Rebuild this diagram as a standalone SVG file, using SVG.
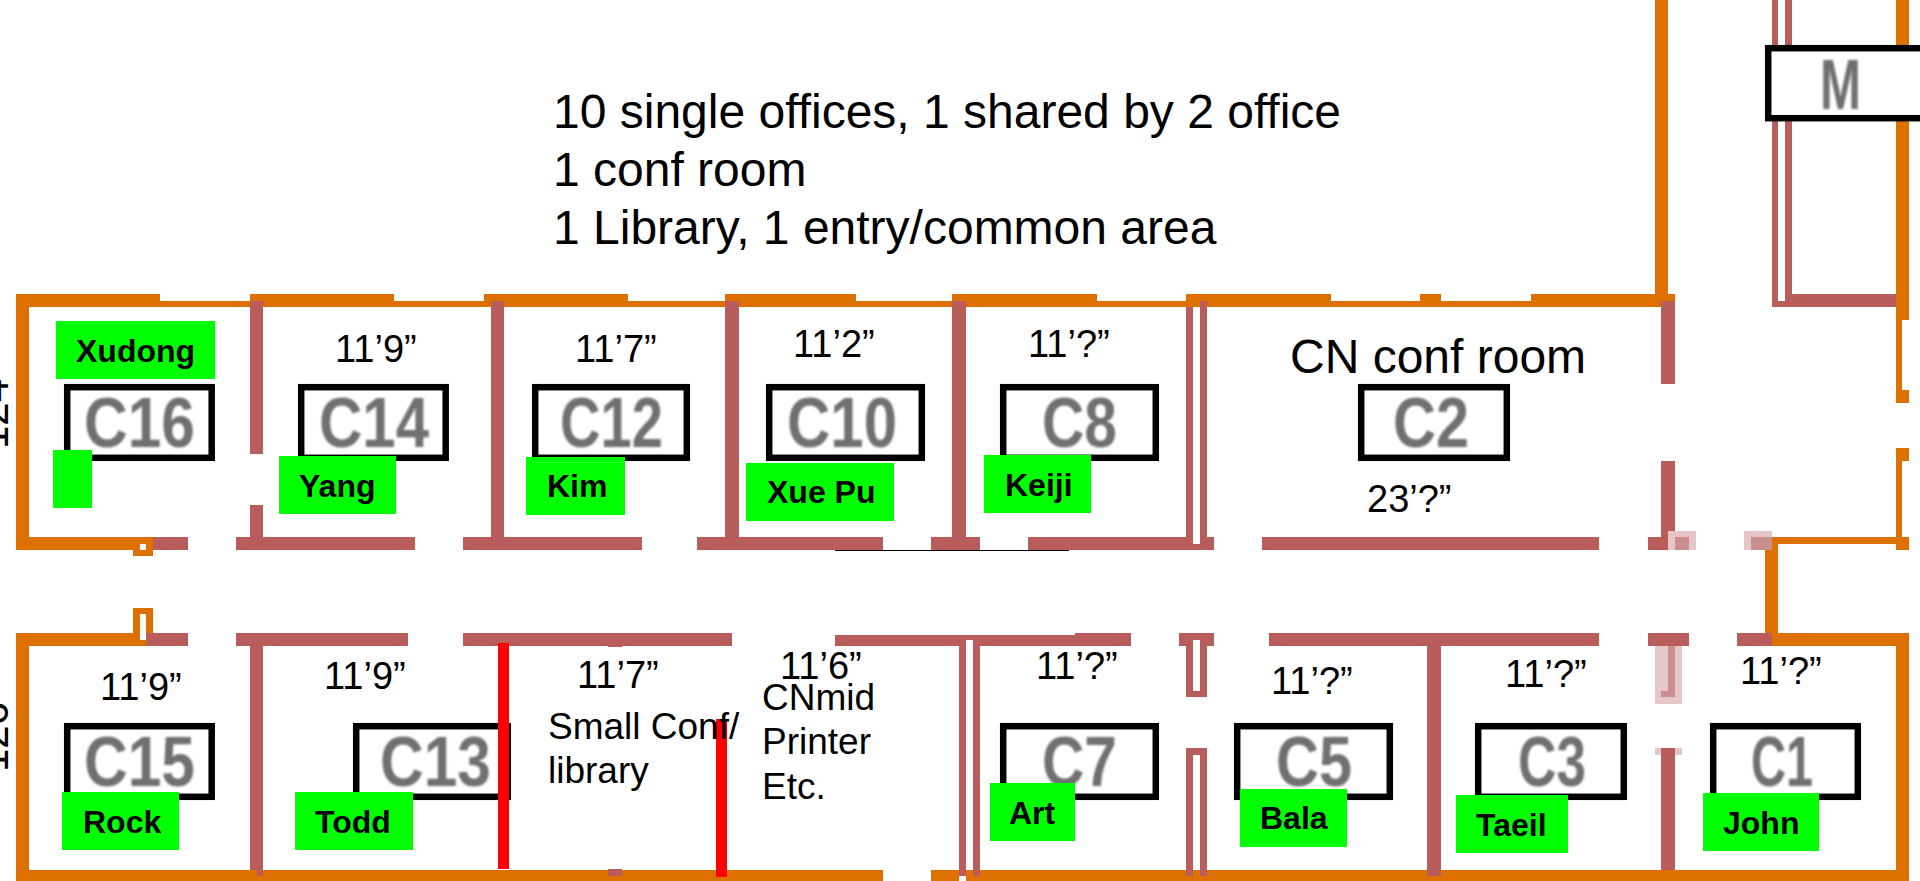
<svg xmlns="http://www.w3.org/2000/svg" width="1920" height="881" viewBox="0 0 1920 881">
<style>
text{font-family:"Liberation Sans",Arial,sans-serif;fill:#000}
.o{fill:#de7000}.r{fill:#b85c5c}.p{fill:#e6c6c6}.q{fill:#cb8e8e}.red{fill:#f00}.g{fill:#0f0}.w{fill:#fff}
.box{fill:#fff;stroke:#000;stroke-width:6.5}
.id{font-size:70px;font-weight:bold;fill:#707070;filter:url(#soft)}
.who{font-size:32px;font-weight:bold}
.dim{font-size:38px}
.note{font-size:37px}
.big{font-size:48px}
.cut{font-size:42px}
</style>
<defs><filter id="soft" x="-10%" y="-10%" width="120%" height="120%"><feGaussianBlur stdDeviation="1.2"/></filter></defs>
<rect width="1920" height="881" fill="#fff"/>
<g id="walls">
<g id="orange-walls" class="o">
<rect x="16" y="294" width="13" height="256"/>
<rect x="16" y="294" width="144" height="13"/><rect x="160" y="301" width="1515" height="6"/>
<rect x="250" y="294" width="144" height="13"/><rect x="484" y="294" width="144" height="13"/>
<rect x="725" y="294" width="131" height="13"/><rect x="952" y="294" width="145" height="13"/>
<rect x="1186" y="294" width="145" height="13"/><rect x="1420" y="294" width="21" height="13"/>
<rect x="1531" y="294" width="144" height="13"/><rect x="1655" y="0" width="13" height="300"/>
<rect x="16" y="537" width="117" height="13"/><path d="M133 537h20v19h-20zM140 544v6h6v-6z" fill-rule="evenodd"/>
<rect x="1896" y="0" width="13" height="320"/><rect x="1896" y="320" width="6" height="70"/><rect x="1896" y="390" width="13" height="13"/>
<rect x="1896" y="448" width="13" height="13"/><rect x="1896" y="461" width="6" height="76"/><rect x="1896" y="537" width="13" height="13"/>
<rect x="1772" y="537" width="124" height="7"/><rect x="1765" y="544" width="13" height="89"/>
<rect x="1772" y="633" width="137" height="13"/><rect x="1896" y="633" width="13" height="248"/>
<rect x="16" y="633" width="13" height="248"/><rect x="16" y="633" width="130" height="13"/>
<path d="M133 608h20v25h-7v-19h-6v26h-7z"/>
<rect x="16" y="870" width="867" height="11"/><rect x="931" y="870" width="28" height="11"/><rect x="966" y="870" width="943" height="11"/>
</g>
<rect class="w" x="140" y="614" width="6" height="26"/>
<g id="rose-walls" class="r">
<rect x="153" y="537" width="35" height="13"/><rect x="236" y="537" width="179" height="13"/><rect x="463" y="537" width="179" height="13"/>
<rect x="697" y="537" width="186" height="13"/><rect x="931" y="537" width="49" height="13"/><rect x="1028" y="537" width="186" height="13"/>
<rect x="1262" y="537" width="337" height="13"/><rect x="1648" y="537" width="27" height="13"/>
<rect x="250" y="301" width="13" height="153"/><rect x="250" y="505" width="13" height="32"/>
<rect x="491" y="301" width="13" height="236"/><rect x="725" y="301" width="14" height="236"/><rect x="952" y="301" width="14" height="236"/>
<rect x="1186" y="307" width="7" height="230"/><rect x="1200" y="301" width="7" height="236"/>
<rect x="1661" y="301" width="14" height="83"/><rect x="1661" y="461" width="14" height="76"/>
<rect x="1772" y="0" width="6" height="307"/><rect x="1785" y="0" width="7" height="307"/><rect x="1772" y="301" width="124" height="6"/><rect x="1785" y="294" width="111" height="13"/>
<rect x="146" y="633" width="42" height="13"/><rect x="236" y="633" width="172" height="13"/><rect x="463" y="633" width="269" height="13"/>
<rect x="835" y="635" width="240" height="11"/><rect x="1075" y="633" width="56" height="13"/>
<rect x="1179" y="633" width="35" height="13"/><rect x="1269" y="633" width="330" height="13"/><rect x="1648" y="633" width="41" height="13"/><rect x="1737" y="633" width="35" height="13"/>
<rect x="250" y="646" width="13" height="224"/><rect x="257" y="870" width="6" height="6"/><rect x="608" y="646" width="14" height="1"/><rect x="608" y="869" width="14" height="7"/>
<rect x="959" y="646" width="7" height="230"/><rect x="973" y="646" width="7" height="230"/>
<path d="M1186 646h7v45h7v-45h7v51h-21z"/><path d="M1186 748h21v128h-7v-121h-7v121h-7z"/>
<rect x="1427" y="646" width="14" height="230"/><rect x="1661" y="748" width="14" height="122"/>
</g>
<g id="door-gaps" class="w">
<rect x="1193" y="537" width="7" height="7"/><rect x="966" y="640" width="7" height="6"/><rect x="1193" y="640" width="7" height="6"/>
</g>
<g id="faded-walls">
<rect class="p" x="1668" y="531" width="28" height="19"/><rect class="q" x="1675" y="537" width="14" height="13"/>
<rect class="p" x="1744" y="531" width="28" height="19"/><rect class="q" x="1751" y="537" width="21" height="13"/>
<rect class="p" x="1655" y="646" width="27" height="58"/><rect class="q" x="1668" y="646" width="7" height="45"/><rect class="q" x="1661" y="691" width="14" height="6"/>
<rect class="p" x="1655" y="748" width="6" height="7"/><rect class="p" x="1675" y="748" width="7" height="7"/>
</g>
<rect id="threshold" x="835" y="550" width="234" height="1" fill="#000"/>
</g>
<g id="M"><rect class="box" x="1768.2" y="48.2" width="160" height="70"/><text class="id" x="1820" y="109" textLength="41" lengthAdjust="spacingAndGlyphs">M</text></g>
<g id="C16"><rect class="box" x="67.2" y="387.2" width="144.500" height="70.600"/><text class="id" x="84" y="447" textLength="111" lengthAdjust="spacingAndGlyphs">C16</text></g>
<g id="C14"><rect class="box" x="301.2" y="387.2" width="144.500" height="70.600"/><text class="id" x="319" y="447" textLength="110" lengthAdjust="spacingAndGlyphs">C14</text></g>
<g id="C12"><rect class="box" x="535.200" y="387.2" width="151.600" height="70.600"/><text class="id" x="560" y="447" textLength="103" lengthAdjust="spacingAndGlyphs">C12</text></g>
<g id="C10"><rect class="box" x="769.200" y="387.2" width="152.600" height="70.600"/><text class="id" x="787" y="447" textLength="110" lengthAdjust="spacingAndGlyphs">C10</text></g>
<g id="C8"><rect class="box" x="1003.200" y="387.2" width="152.600" height="70.600"/><text class="id" x="1042" y="447" textLength="75" lengthAdjust="spacingAndGlyphs">C8</text></g>
<g id="C2"><rect class="box" x="1361.200" y="387.2" width="145.600" height="70.600"/><text class="id" x="1393" y="447" textLength="76" lengthAdjust="spacingAndGlyphs">C2</text></g>
<g id="C15"><rect class="box" x="67.2" y="726.2" width="144.500" height="70.600"/><text class="id" x="84" y="786" textLength="111" lengthAdjust="spacingAndGlyphs">C15</text></g>
<g id="C13"><rect class="box" x="356.2" y="726.2" width="151.600" height="70.600"/><text class="id" x="380" y="786" textLength="111" lengthAdjust="spacingAndGlyphs">C13</text></g>
<g id="C7"><rect class="box" x="1003.200" y="726.2" width="152.600" height="70.600"/><text class="id" x="1042" y="786" textLength="75" lengthAdjust="spacingAndGlyphs">C7</text></g>
<g id="C5"><rect class="box" x="1237.200" y="726.2" width="152.600" height="70.600"/><text class="id" x="1276" y="786" textLength="76" lengthAdjust="spacingAndGlyphs">C5</text></g>
<g id="C3"><rect class="box" x="1478.200" y="726.2" width="145.600" height="70.600"/><text class="id" x="1518" y="786" textLength="68" lengthAdjust="spacingAndGlyphs">C3</text></g>
<g id="C1"><rect class="box" x="1713.200" y="726.2" width="144.600" height="70.600"/><text class="id" x="1751" y="786" textLength="62" lengthAdjust="spacingAndGlyphs">C1</text></g>
<g id="partitions" class="red"><rect x="498" y="643" width="11" height="226"/><rect x="716" y="719" width="11" height="158"/></g>
<g id="occupants">
<g id="Xudong"><rect class="g" x="56" y="321" width="159" height="58"/><text class="who" x="76" y="362">Xudong</text></g>
<rect id="blank-tag" class="g" x="53" y="450" width="39" height="58"/>
<g id="Yang"><rect class="g" x="279" y="456" width="117" height="58"/><text class="who" x="299" y="497">Yang</text></g>
<g id="Kim"><rect class="g" x="526" y="457" width="99" height="58"/><text class="who" x="547" y="497">Kim</text></g>
<g id="XuePu"><rect class="g" x="746" y="463" width="148" height="58"/><text class="who" x="767" y="503">Xue Pu</text></g>
<g id="Keiji"><rect class="g" x="984" y="455" width="107" height="58"/><text class="who" x="1005" y="496">Keiji</text></g>
<g id="Rock"><rect class="g" x="62" y="792" width="117" height="58"/><text class="who" x="83" y="833">Rock</text></g>
<g id="Todd"><rect class="g" x="295" y="792" width="118" height="58"/><text class="who" x="315" y="833">Todd</text></g>
<g id="Art"><rect class="g" x="990" y="783" width="85" height="58"/><text class="who" x="1009" y="824">Art</text></g>
<g id="Bala"><rect class="g" x="1240" y="789" width="107" height="58"/><text class="who" x="1260" y="829">Bala</text></g>
<g id="Taeil"><rect class="g" x="1456" y="795" width="112" height="58"/><text class="who" x="1476" y="836">Taeil</text></g>
<g id="John"><rect class="g" x="1703" y="793" width="116" height="58"/><text class="who" x="1723" y="834">John</text></g>
</g>
<g id="labels">
<text class="big" x="553" y="128">10 single offices, 1 shared by 2 office</text>
<text class="big" x="553" y="186">1 conf room</text>
<text class="big" x="553" y="244">1 Library, 1 entry/common area</text>
<text class="big" x="1290" y="373">CN conf room</text>
<text class="dim" x="335" y="362">11’9”</text>
<text class="dim" x="575" y="362">11’7”</text>
<text class="dim" x="793" y="357">11’2”</text>
<text class="dim" x="1028" y="357">11’?”</text>
<text class="dim" x="1367" y="512">23’?”</text>
<text class="dim" x="100" y="700">11’9”</text>
<text class="dim" x="324" y="689">11’9”</text>
<text class="dim" x="577" y="688">11’7”</text>
<text class="dim" x="780" y="679">11’6”</text>
<text class="dim" x="1036" y="679">11’?”</text>
<text class="dim" x="1271" y="694">11’?”</text>
<text class="dim" x="1505" y="687">11’?”</text>
<text class="dim" x="1740" y="684">11’?”</text>
<text class="note" x="548" y="739">Small Conf/</text>
<text class="note" x="548" y="783">library</text>
<text class="note" x="762" y="710">CNmid</text>
<text class="note" x="762" y="754">Printer</text>
<text class="note" x="762" y="799">Etc.</text>
<text class="cut" transform="translate(8 449) rotate(-90)">124</text>
<text class="cut" transform="translate(8 772) rotate(-90)">126</text>
</g>
</svg>
